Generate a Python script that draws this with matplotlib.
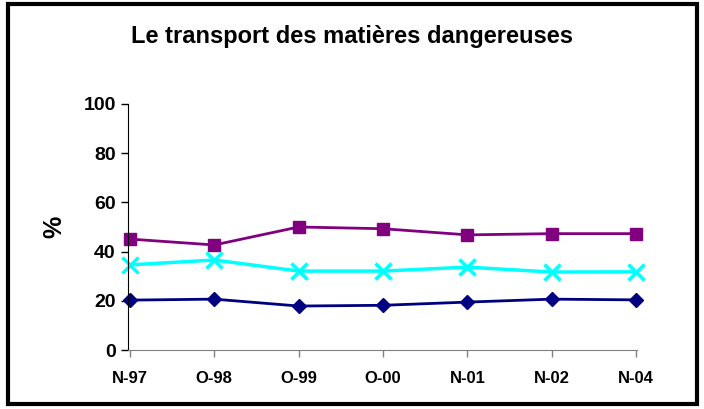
import matplotlib
matplotlib.use("Agg")
import matplotlib.pyplot as plt
from matplotlib.patches import Rectangle

categories = ["N-97", "O-98", "O-99", "O-00", "N-01", "N-02", "N-04"]
purple_vals = [45.1, 42.7, 50.0, 49.3, 46.8, 47.3, 47.3]
cyan_vals = [34.6, 36.6, 32.1, 32.1, 33.7, 31.7, 31.8]
navy_vals = [20.3, 20.7, 17.9, 18.2, 19.5, 20.7, 20.4]
yticks = [0, 20, 40, 60, 80, 100]

plt.rcParams["font.family"] = ["Liberation Sans", "DejaVu Sans"]
plt.rcParams["font.weight"] = "bold"

fig = plt.figure(figsize=(7.04, 4.09), dpi=100)
ax = fig.add_axes([0.182, 0.144, 0.723, 0.602])

x = list(range(len(categories)))
ax.plot(x, purple_vals, color="#800080", lw=2, marker="s", ms=8, clip_on=False)
ax.plot(x, cyan_vals, color="#00FFFF", lw=2.5, marker="x", ms=12, mew=2.5, clip_on=False)
ax.plot(x, navy_vals, color="#000080", lw=2, marker="D", ms=7, clip_on=False)

ax.set_xlim(-0.02, len(categories) - 1 + 0.01)
ax.set_ylim(0, 100)
ax.set_yticks(yticks)
ax.set_xticks(x)
ax.set_xticklabels(categories, fontsize=12, fontweight="bold")
ax.set_yticklabels([str(t) for t in yticks], fontsize=14, fontweight="bold")
ax.tick_params(axis="x", length=5, width=1, color="#808080", pad=10)
ax.tick_params(axis="y", length=5, width=1, pad=4)
ax.spines["top"].set_visible(False)
ax.spines["right"].set_visible(False)
ax.spines["bottom"].set_color("#808080")
ax.set_ylabel("%", fontsize=18, fontweight="bold", labelpad=12)

fig.text(0.5, 0.91, "Le transport des matières dangereuses",
         ha="center", va="center", fontsize=17, fontweight="bold")

fig.patches.append(Rectangle((0.012, 0.012), 0.978, 0.978, transform=fig.transFigure,
                             fill=False, lw=3, edgecolor="black"))

fig.savefig("out.png", dpi=100)
